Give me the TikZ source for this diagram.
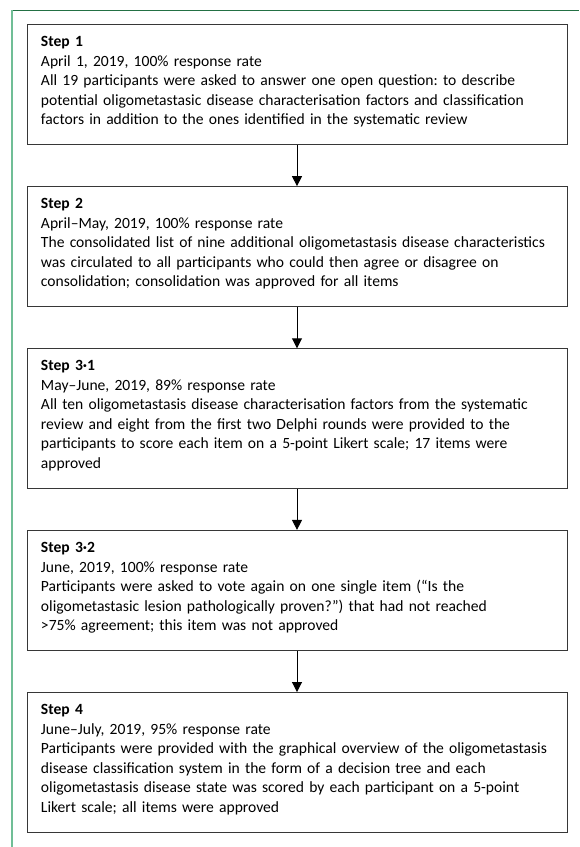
\documentclass[tikz,border=0pt]{standalone}
\usepackage{fontspec}
\setmainfont{Carlito}
\usetikzlibrary{arrows.meta,positioning}
\definecolor{framegreen}{RGB}{35,112,68}
\definecolor{edgegreen}{RGB}{112,190,150}
\definecolor{boxgray}{RGB}{55,55,55}
\tikzset{
  stepbox/.style={draw=boxgray, line width=0.9pt, text width=512pt, inner xsep=14pt, inner ysep=12pt,
    align=left, font=\fontsize{15.6}{19.5}\selectfont\frenchspacing},
  steparrow/.style={-{Triangle[width=10pt,length=10pt]}, line width=1pt},
}
\newcommand{\padend}{\rule[-8pt]{0pt}{0pt}}
\begin{document}
\begin{tikzpicture}[x=1pt, y=1pt, node distance=41pt]
\useasboundingbox (0,0) rectangle (579,-847);
% green frame
\draw [framegreen, line width=1pt] (12,-10) -- (579,-10);
\draw [edgegreen, line width=1.2pt] (12,-10) -- (12,-847);

% steps
\node [stepbox, anchor=north] (step1) at (297,-24) {\textbf{Step 1}\\
  April 1, 2019, 100\% response rate\\
  All 19 participants were asked to answer one open question: to describe\\
  potential oligometastasic disease characterisation factors and classification\\
  factors in addition to the ones identified in the systematic review\padend};
\node [stepbox, below=of step1] (step2) {\textbf{Step 2}\\
  April–May, 2019, 100\% response rate\\
  The consolidated list of nine additional oligometastasis disease characteristics\\
  was circulated to all participants who could then agree or disagree on\\
  consolidation; consolidation was approved for all items\padend};
\node [stepbox, below=of step2] (step31) {\textbf{Step 3·1}\\
  May–June, 2019, 89\% response rate\\
  All ten oligometastasis disease characterisation factors from the systematic\\
  review and eight from the first two Delphi rounds were provided to the\\
  participants to score each item on a 5-point Likert scale; 17 items were\\
  approved\padend};
\node [stepbox, below=of step31] (step32) {\textbf{Step 3·2}\\
  June, 2019, 100\% response rate\\
  Participants were asked to vote again on one single item (“Is the\\
  oligometastasic lesion pathologically proven?”) that had not reached\\
  >75\% agreement; this item was not approved\padend};
\node [stepbox, below=of step32] (step4) {\textbf{Step 4}\\
  June–July, 2019, 95\% response rate\\
  Participants were provided with the graphical overview of the oligometastasis\\
  disease classification system in the form of a decision tree and each\\
  oligometastasis disease state was scored by each participant on a 5-point\\
  Likert scale; all items were approved\padend};

% arrows
\draw [steparrow] (step1) -- (step2);
\draw [steparrow] (step2) -- (step31);
\draw [steparrow] (step31) -- (step32);
\draw [steparrow] (step32) -- (step4);
\end{tikzpicture}
\end{document}
